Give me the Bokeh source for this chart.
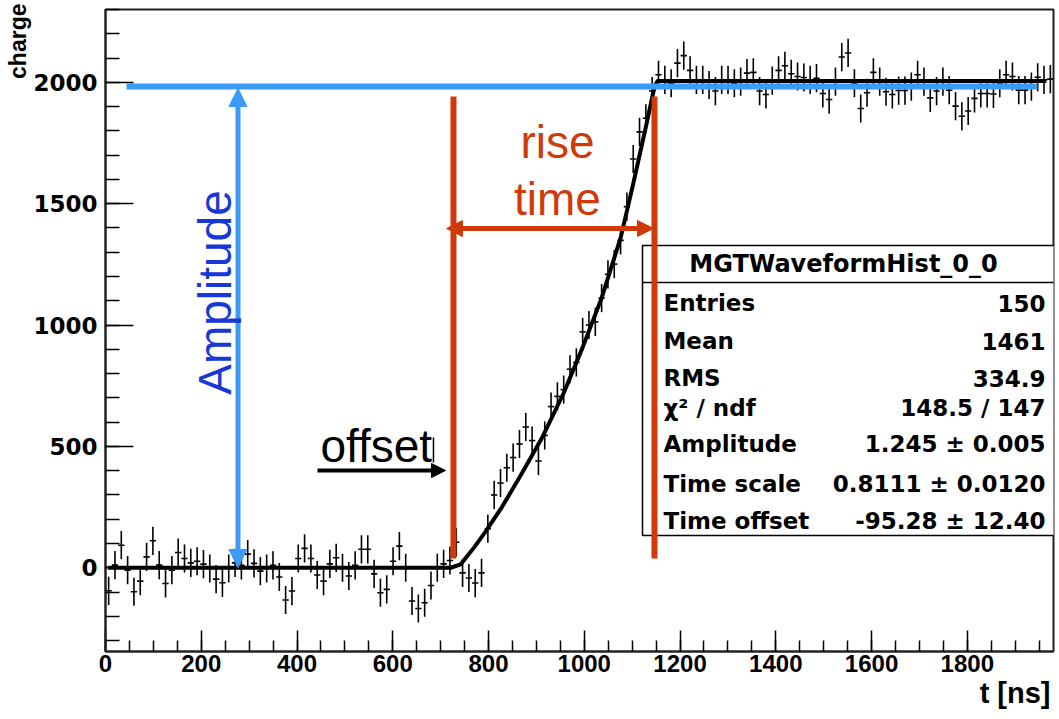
from bokeh.plotting import figure
from bokeh.models import Range1d, FixedTicker, Label, Arrow, NormalHead, ColumnDataSource, Title
from bokeh.embed import file_html
from bokeh.resources import INLINE

# ---------------- data ----------------
BIN_WIDTH = 13.2          # ns per bin (150 bins)
ERR = 58                  # error bar half-height

charge = [
    -95, 11, 93, -10, -99, -55, 45, 111, 11, -65, -10, 63, 38, 20, 27, 15, -3, -47, -62, -3,
    20, 10, 56, 18, -14, -3, 10,
    -38, -133, -96, 38, 80, 38, -30, -55, 16, 41, 0, -34, 10, 76, 76, -25, -103, -89, 27, 89,
    0, -137, -168, -144, -73, 0, 16, 30, 105,
    -21, -42, -63, -21, 161, 300, 349, 412, 454, 510, 580, 524, 440, 545, 664, 706, 734, 818,
    846, 972, 1000, 1013, 1111, 1209, 1251, 1349, 1488, 1684, 1796, 1852, 1964,
    2031, 2010, 1996, 2079, 2110, 2049, 2010, 2010, 1989, 1964, 2010, 2010, 1996, 2003, 2038,
    2041, 1964, 1950, 2007, 2049, 2068, 2035, 2024, 2020, 2010, 2017, 1954, 1929, 2003, 2104,
    2121, 1996, 1892, 1957, 2041, 2003, 1961, 1950, 1966, 1966, 1982, 2031, 2003, 1936, 1964,
    2003, 1968, 1902, 1860, 1882, 1934, 1954, 1954, 1952, 1996, 2031, 2024, 1968, 1968, 1982,
    2021, 2010, 2013,
]
bin_center = [(i + 0.5) * BIN_WIDTH for i in range(len(charge))]

fit_t = [5, 721, 742, 770, 793, 828, 870, 913, 957, 997, 1036, 1076, 1102, 1129, 1147, 1153, 1965]
fit_q = [0, 0, 14, 84, 147, 250, 390, 540, 720, 910, 1110, 1360, 1580, 1820, 1985, 2005, 2005]

x_ticks = [0, 200, 400, 600, 800, 1000, 1200, 1400, 1600, 1800]
y_ticks = [0, 500, 1000, 1500, 2000]
x_minor = list(range(0, 2000, 50))
y_minor = list(range(-300, 2400, 100))

stats_labels = ["Entries", "Mean", "RMS", "\u03c7\u00b2 / ndf", "Amplitude", "Time scale", "Time offset"]
stats_values = ["150", "1461", "334.9", "148.5 / 147", "1.245 \u00b1 0.005", "0.8111 \u00b1 0.0120", "-95.28 \u00b1 12.40"]
stats_title = "MGTWaveformHist_0_0"

BLUE = "#3a9bf8"
DBLUE = "#1538d6"
RED = "#d03a0b"

# ---------------- figure ----------------
p = figure(width=1059, height=719, x_range=Range1d(0, 1980), y_range=Range1d(-345, 2300),
           output_backend="svg", toolbar_location=None,
           min_border_left=105, min_border_right=6, min_border_top=9, min_border_bottom=68)
p.background_fill_color = "white"
p.border_fill_color = "white"
p.xgrid.visible = False
p.ygrid.visible = False
p.outline_line_color = "#222222"
p.outline_line_width = 2

xa = p.xaxis[0]
xa.ticker = FixedTicker(ticks=x_ticks, minor_ticks=x_minor)
xa.major_tick_in = 21
xa.major_tick_out = 0
xa.minor_tick_in = 11
xa.minor_tick_out = 0
xa.axis_line_color = "#222222"
xa.axis_line_width = 2
xa.major_tick_line_width = 1.5
xa.minor_tick_line_width = 1.5
xa.major_label_text_font = "Liberation Sans"
xa.major_label_text_font_style = "bold"
xa.major_label_text_font_size = "24px"
xa.major_label_text_color = "black"
xa.major_label_standoff = 3

ya = p.yaxis[0]
ya.ticker = FixedTicker(ticks=y_ticks, minor_ticks=y_minor)
ya.major_tick_in = 28
ya.major_tick_out = 0
ya.minor_tick_in = 14
ya.minor_tick_out = 0
ya.axis_line_color = "#222222"
ya.axis_line_width = 2
ya.major_tick_line_width = 1.5
ya.minor_tick_line_width = 1.5
ya.major_label_text_font = "DejaVu Sans"
ya.major_label_text_font_style = "bold"
ya.major_label_text_font_size = "23px"
ya.major_label_text_color = "black"
ya.major_label_standoff = 8

# axis titles (ROOT style: at the end of each axis)
p.add_layout(Title(text="charge", align="right", text_font="Liberation Sans",
                   text_font_style="bold", text_font_size="23px", text_color="black",
                   standoff=0, offset=-6), "left")
p.add_layout(Title(text="t [ns]", align="right", text_font="Liberation Sans",
                   text_font_style="bold", text_font_size="29px", text_color="black",
                   standoff=0, offset=3), "below")

# ---------------- histogram crosses ----------------
src = ColumnDataSource(dict(
    t=bin_center, q=charge,
    lo=[v - ERR for v in charge], hi=[v + ERR for v in charge],
    l=[c - BIN_WIDTH / 2 for c in bin_center], r=[c + BIN_WIDTH / 2 for c in bin_center],
))
p.segment(x0="t", y0="lo", x1="t", y1="hi", source=src, line_color="black", line_width=1.6)
p.segment(x0="l", y0="q", x1="r", y1="q", source=src, line_color="black", line_width=1.6)

# fit
p.line(fit_t, fit_q, line_color="black", line_width=4, line_join="round")

# stats box
p.quad(left=[1121.6], right=[1990], bottom=[132.9], top=[1327.7],
       fill_color="white", line_color="black", line_width=1.5)
p.segment(x0=[1121.6], y0=[1175], x1=[1990], y1=[1175], line_color="black", line_width=1.5)

# blue amplitude line
p.segment(x0=[43.9], y0=[1983], x1=[1946.6], y1=[1983], line_color=BLUE, line_width=6)
# red rise-time lines
p.segment(x0=[726.8, 1146.6], y0=[38, 38], x1=[726.8, 1146.6], y1=[1941.6, 1941.6],
          line_color=RED, line_width=6)

# arrows
p.add_layout(Arrow(x_start=276.7, y_start=1.0, x_end=276.7, y_end=1974.5,
                   line_color=BLUE, line_width=5,
                   start=NormalHead(size=18, fill_color=BLUE, line_color=BLUE),
                   end=NormalHead(size=18, fill_color=BLUE, line_color=BLUE)))
p.add_layout(Arrow(x_start=712.2, y_start=1397.7, x_end=1144.5, y_end=1397.7,
                   line_color=RED, line_width=5,
                   start=NormalHead(size=16, fill_color=RED, line_color=RED),
                   end=NormalHead(size=16, fill_color=RED, line_color=RED)))
p.add_layout(Arrow(x_start=442.8, y_start=400.6, x_end=710.1, y_end=400.6,
                   line_color="black", line_width=4,
                   end=NormalHead(size=14, fill_color="black", line_color="black")))
# text cursor after "offset"
p.segment(x0=[685], y0=[433.6], x1=[685], y1=[536.7], line_color="black", line_width=1.5)

# annotation texts
p.add_layout(Label(x=229.7, y=1134, text="Amplitude", angle=1.5708, text_align="center",
                   text_baseline="middle", text_font="Liberation Sans", text_font_size="46px",
                   text_color=DBLUE))
p.add_layout(Label(x=944, y=1754, text="rise", text_align="center", text_baseline="alphabetic",
                   text_font="Liberation Sans", text_font_size="46px", text_color=RED))
p.add_layout(Label(x=944, y=1521, text="time", text_align="center", text_baseline="alphabetic",
                   text_font="Liberation Sans", text_font_size="46px", text_color=RED))
p.add_layout(Label(x=449, y=503, text="offset", text_align="left", text_baseline="alphabetic",
                   text_font="Liberation Sans", text_font_size="46px", text_color="black"))

# stats texts
p.add_layout(Label(x=1541.4, y=1253, text=stats_title, text_align="center",
                   text_baseline="alphabetic", text_font="DejaVu Sans", text_font_style="bold",
                   text_font_size="24px", text_color="black"))
row_y = [1089, 933, 780, 657, 508, 344, 191]
for lab, val, yy in zip(stats_labels, stats_values, row_y):
    p.add_layout(Label(x=1165.4, y=yy, text=lab, text_align="left", text_baseline="alphabetic",
                       text_font="DejaVu Sans", text_font_style="bold", text_font_size="23px",
                       text_color="black"))
    p.add_layout(Label(x=1963.3, y=yy, text=val, text_align="right", text_baseline="alphabetic",
                       text_font="DejaVu Sans", text_font_style="bold", text_font_size="23px",
                       text_color="black"))

open("out.html", "w").write(file_html(p, INLINE))
